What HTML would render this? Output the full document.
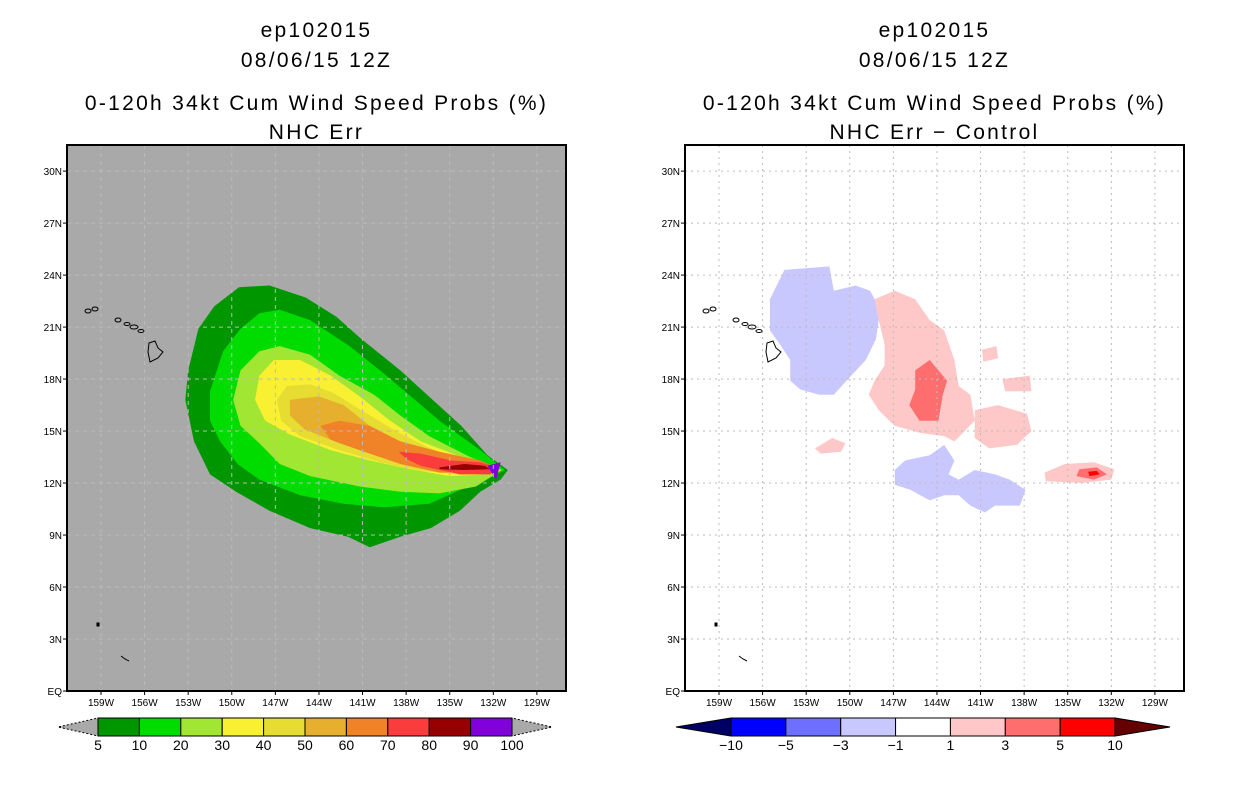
<!DOCTYPE html>
<html><head><meta charset="utf-8"><style>
html,body{margin:0;padding:0;background:#fff;width:1236px;height:800px;overflow:hidden}
svg text{font-family:"Liberation Sans",sans-serif}
</style></head><body>
<svg id="s" width="1236" height="800" xmlns="http://www.w3.org/2000/svg"></svg>
<script>
// ---- data ----
const latTicks=[30,27,24,21,18,15,12,9,6,3,0];
const lonTicks=[-159,-156,-153,-150,-147,-144,-141,-138,-135,-132,-129];
const probLevels=['5','10','20','30','40','50','60','70','80','90','100'];
const probColors=['#009600','#00dc00','#a0e632','#faf032','#e6dc32','#e6af2d','#f08228','#fa3c3c','#960000','#8200dc'];
const diffLevels=['-10','-5','-3','-1','1','3','5','10'];
const diffColors=['#0000ff','#6e6eff','#c8c8ff','#ffffff','#ffc8c8','#ff6e6e','#ff0000'];
const p5=[[-131,12.75],[-132.4,13.6],[-134.2,15.3],[-136.3,16.9],[-138.4,18.5],[-141.2,20.4],[-142.8,21.6],[-144.9,22.7],[-147.4,23.4],[-149.5,23.3],[-151.2,22.2],[-152.3,20.9],[-153.0,18.5],[-153.2,16.8],[-152.6,14.4],[-151.5,12.5],[-149.7,11.5],[-147.4,10.4],[-144.6,9.4],[-142.0,8.9],[-140.5,8.3],[-138.4,8.9],[-136.3,9.4],[-134.3,10.4],[-132.9,11.5],[-131.5,12.2]];
const p10=[[-131.2,12.75],[-132.9,13.9],[-135.7,15.6],[-137.8,17.1],[-139.8,18.5],[-141.9,19.9],[-144.6,21.4],[-146.7,22.0],[-148.1,21.8],[-149.4,20.9],[-150.6,19.6],[-151.5,17.3],[-151.5,15.6],[-150.8,14.4],[-149.6,13.1],[-148.1,12.2],[-145.3,11.3],[-142.3,10.8],[-139.5,10.6],[-136.4,10.8],[-134.3,11.6],[-132.5,12.2]];
const p20=[[-131.4,12.75],[-133.6,13.5],[-136.4,14.7],[-138.4,15.9],[-140.2,17.1],[-142.6,18.2],[-144.6,19.4],[-146.7,19.9],[-148.1,19.6],[-149.4,18.5],[-149.9,16.8],[-149.4,15.3],[-148.1,14.3],[-146.7,13.1],[-144.6,12.4],[-141.2,11.8],[-138.4,11.5],[-135.7,11.4],[-133.2,11.8]];
const p30=[[-131.5,12.75],[-134.2,13.5],[-137.0,14.4],[-139.1,15.6],[-141.2,17.0],[-143.2,18.2],[-145.3,19.1],[-147.1,19.1],[-148.1,18.2],[-148.4,16.8],[-147.7,15.6],[-146.0,14.8],[-143.2,13.9],[-140.5,13.3],[-137.7,12.8],[-135.0,12.4],[-132.6,12.5]];
const p40=[[-131.5,12.75],[-134.2,13.3],[-136.6,14.1],[-138.7,15.0],[-140.9,16.1],[-143.0,17.2],[-144.6,17.7],[-146.2,17.6],[-146.9,16.8],[-146.6,15.6],[-145.3,14.7],[-142.6,13.9],[-139.8,13.2],[-137.0,12.7],[-134.3,12.5],[-132.2,12.5]];
const p50=[[-131.6,12.75],[-134.2,13.2],[-136.3,13.8],[-138.4,14.4],[-140.5,15.3],[-142.3,16.5],[-144.0,17.0],[-146.0,16.8],[-146.0,15.9],[-145.0,15.1],[-142.6,14.3],[-139.8,13.5],[-137.0,12.9],[-134.3,12.6],[-132.2,12.6]];
const p60=[[-143.9,15.3],[-142.6,15.6],[-140.5,15.3],[-138.4,14.4],[-135.7,13.8],[-132.9,13.3],[-131.8,12.9],[-132.9,12.6],[-135.7,12.6],[-138.4,13.1],[-141.2,13.9],[-143.2,14.5]];
const p70=[[-138.5,13.8],[-137.0,13.7],[-134.9,13.3],[-132.9,13.2],[-131.7,12.9],[-132.2,12.5],[-134.3,12.5],[-137.0,13.0],[-138.0,13.4]];
const p80=[[-135.7,12.9],[-134.0,13.1],[-132.6,13.0],[-132.2,12.8],[-134.0,12.75],[-135.7,12.8]];
const p90=[[-132.4,13.0],[-131.5,13.2],[-131.8,12.2],[-132.2,12.7]];
const probShapes=[[p5,0],[p10,1],[p20,2],[p30,3],[p40,4],[p50,5],[p60,6],[p70,7],[p80,8],[p90,9]];
const dBlueNW=[[-155.5,22.6],[-154.5,24.3],[-151.4,24.5],[-151.1,23.1],[-149.6,23.4],[-148.6,23.1],[-147.9,22.0],[-148.2,20.3],[-148.9,19.1],[-149.9,18.2],[-151.1,17.1],[-152.1,17.1],[-153.4,17.4],[-154.1,17.9],[-154.1,19.1],[-154.8,20.0],[-155.5,20.8]];
const dBlueS=[[-146.9,12.75],[-146.2,13.3],[-144.5,13.6],[-143.5,14.2],[-142.8,13.3],[-143.2,12.5],[-142.5,12.2],[-141.4,12.75],[-140.0,12.5],[-139.0,12.2],[-137.9,11.6],[-138.3,10.7],[-140.0,10.7],[-140.7,10.3],[-141.7,10.7],[-142.5,11.3],[-143.5,11.3],[-144.5,11.0],[-145.8,11.6],[-146.9,11.9]];
const dPinkC=[[-148.3,22.6],[-146.9,23.1],[-145.5,22.6],[-144.5,21.4],[-143.5,20.8],[-142.8,19.1],[-142.5,17.6],[-141.7,17.1],[-141.4,15.6],[-142.1,15.0],[-142.8,14.4],[-143.5,14.7],[-145.2,14.9],[-146.9,15.3],[-148.0,16.2],[-148.7,17.1],[-148.3,17.9],[-147.6,18.8],[-147.6,20.0],[-148.0,21.4]];
const dPinkE1=[[-141.4,16.2],[-139.8,16.5],[-137.8,16.0],[-137.5,15.0],[-138.5,14.2],[-140.4,14.0],[-141.4,14.6]];
const dPinkE2=[[-140.9,19.7],[-139.9,19.9],[-139.8,19.2],[-140.8,19.0]];
const dPinkE3=[[-139.5,18.0],[-137.6,18.2],[-137.5,17.3],[-139.3,17.3]];
const dPinkW=[[-152.4,14.0],[-151.2,14.6],[-150.3,14.3],[-150.6,13.8],[-152.0,13.7]];
const dPinkT=[[-136.6,12.6],[-135.2,13.1],[-133.2,13.2],[-131.8,12.8],[-132.0,12.2],[-134.0,12.0],[-136.5,12.1]];
const dRedC=[[-145.5,18.5],[-144.5,19.1],[-143.3,17.9],[-143.6,17.1],[-143.9,15.6],[-145.2,15.6],[-145.9,16.5],[-145.5,17.4]];
const dRedT=[[-134.2,12.8],[-133.0,12.9],[-132.3,12.5],[-133.2,12.2],[-134.4,12.4]];
const dRed2T=[[-133.6,12.65],[-133.0,12.7],[-132.8,12.5],[-133.5,12.4]];
const diffShapes=[[dBlueNW,2],[dBlueS,2],[dPinkC,4],[dPinkE1,4],[dPinkE2,4],[dPinkE3,4],[dPinkW,4],[dPinkT,4],[dRedC,5],[dRedT,5],[dRed2T,6]];
// ---- drawing ----
const NS='http://www.w3.org/2000/svg';
const svg=document.getElementById('s');
function mk(tag,attrs,parent){const e=document.createElementNS(NS,tag);for(const k in attrs)e.setAttribute(k,attrs[k]);(parent||svg).appendChild(e);return e;}
const PX=14.53, PY=17.33, TOP=145, BOT=691;
function panel(ox,shapes,colors,bg,gridDash,title4,levels,cbColors,cbX0,cbW,lowCol,highCol,name){
  const xs=lon=>ox+34+(lon+159)*PX;
  const ys=lat=>BOT-lat*PY;
  const L=ox, R=ox+499;
  const g=mk('g',{});
  
  
  const cx=(L+R)/2;
  const titles=['ep102015','08/06/15 12Z','0-120h 34kt Cum Wind Speed Probs (%)',title4];
  const ty=[37,67,110,139];
  titles.forEach((t,i)=>{const e=mk('text',{x:cx,y:ty[i],'text-anchor':'middle','font-size':21,fill:'#000','letter-spacing':'2.3'},g);e.textContent=t;
    
    });
  const bgr=mk('rect',{x:L,y:TOP,width:R-L,height:BOT-TOP,fill:bg},g);
  
  
  const clipId='c'+ox;
  const cp=mk('clipPath',{id:clipId},g);mk('rect',{x:L,y:TOP,width:R-L,height:BOT-TOP},cp);
  const sg=mk('g',{'clip-path':'url(#'+clipId+')'},g);
  shapes.forEach((s,i)=>{
    const pts=s[0].map(p=>xs(p[0]).toFixed(1)+','+ys(p[1]).toFixed(1)).join(' ');
    const e=mk('polygon',{points:pts,fill:colors[s[1]]},sg);
    
    
  });
  lonTicks.forEach(l=>{const e=mk('line',{x1:xs(l),x2:xs(l),y1:TOP,y2:BOT,stroke:'#bbb','stroke-width':1,'stroke-dasharray':gridDash},sg);
    
    });
  latTicks.forEach(l=>{const e=mk('line',{x1:L,x2:R,y1:ys(l),y2:ys(l),stroke:'#bbb','stroke-width':1,'stroke-dasharray':gridDash},sg);
    
    });
  const isl=mk('g',{fill:'none',stroke:'#000','stroke-width':1},sg);
  
  
  const o=ox-67;
  [[88,311,3,2],[95,309,3,2],[118,320,3,2],[127,324,3,1.5],[134,327,4,2],[141,331,3,1.5]].forEach(r=>mk('ellipse',{cx:r[0]+o,cy:r[1],rx:r[2],ry:r[3]},isl));
  mk('polygon',{points:[[149,343],[155,341],[158,348],[163,352],[158,358],[150,362],[148,352]].map(p=>(p[0]+o)+','+p[1]).join(' ')},isl);
  mk('rect',{x:97+o,y:623,width:2,height:3,fill:'#000'},isl);
  mk('polyline',{points:(121+o)+',656 '+(125+o)+',659 '+(129+o)+',661'},isl);
  mk('rect',{x:L,y:TOP,width:R-L,height:BOT-TOP,fill:'none',stroke:'#000','stroke-width':2},g);
  latTicks.forEach(l=>{mk('line',{x1:L-4,x2:L,y1:ys(l),y2:ys(l),stroke:'#000'},g);
    const e=mk('text',{x:L-5,y:ys(l)+4,'text-anchor':'end','font-size':10},g);e.textContent=l===0?'EQ':l+'N';
    
    });
  lonTicks.forEach(l=>{mk('line',{x1:xs(l),x2:xs(l),y1:BOT,y2:BOT+4,stroke:'#000'},g);
    const e=mk('text',{x:xs(l),y:BOT+15,'text-anchor':'middle','font-size':10},g);e.textContent=(-l)+'W';
    
    });
  const cb=mk('g',{},g);
  
  
  const y0=718,h=18,n=cbColors.length,sw=cbW/n;
  const tri=ox>300?55:40, dash=ox>300?'':'2,2';
  mk('polygon',{points:`${cbX0},${y0} ${cbX0},${y0+h} ${cbX0-tri},${y0+h/2}`,fill:lowCol,stroke:'#000','stroke-dasharray':dash},cb);
  mk('polygon',{points:`${cbX0+cbW},${y0} ${cbX0+cbW},${y0+h} ${cbX0+cbW+tri},${y0+h/2}`,fill:highCol,stroke:'#000','stroke-dasharray':dash},cb);
  cbColors.forEach((c,i)=>{const e=mk('rect',{x:cbX0+i*sw,y:y0,width:sw,height:h,fill:c,stroke:'#000'},cb);
    
    });
  levels.forEach((t,i)=>{const e=mk('text',{x:cbX0+i*sw,y:y0+h+14,'text-anchor':'middle','font-size':14},cb);e.textContent=t.replace('-','\u2212');
    
    });
}
panel(67,probShapes,probColors,'#a9a9a9','4,4','NHC Err',probLevels,probColors,98,414,'#a9a9a9','#a9a9a9','left-prob-panel');
panel(685,diffShapes,diffColors,'#ffffff','2,4','NHC Err \u2212 Control',diffLevels,diffColors,731,384,'#000064','#640000','right-diff-panel');
</script>
</body></html>
